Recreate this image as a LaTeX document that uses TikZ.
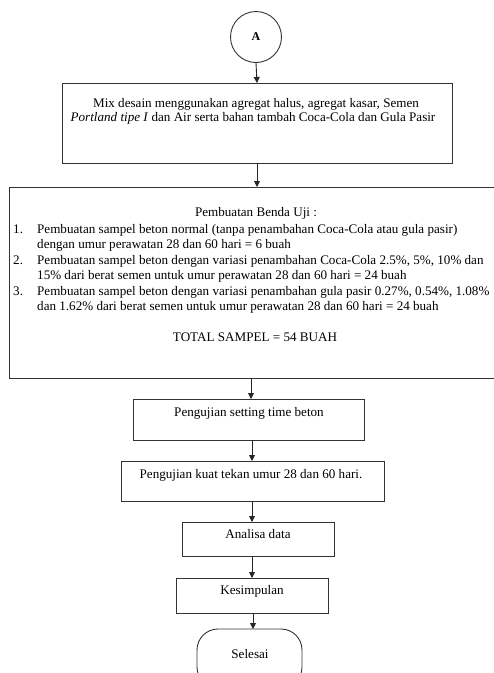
\documentclass[tikz,border=0pt]{standalone}
\usepackage{fontspec}
\setmainfont{Liberation Serif}
\usetikzlibrary{arrows.meta}
\begin{document}
\begin{tikzpicture}[x=1pt,y=-1pt,
  box/.style={draw=black!80,line width=0.9pt},
  lbl/.style={inner sep=0pt,font=\fontsize{13.1}{15}\selectfont},
  arr/.style={draw=black!85,line width=0.9pt,-{Triangle[length=6pt,width=6pt]}}]
\useasboundingbox (0,0) rectangle (494,673);
% start connector
\node[draw=black!80,line width=0.9pt,circle,minimum size=51pt,inner sep=0pt] (A) at (256,37) {};
\node[lbl,font=\fontsize{12}{14}\selectfont\bfseries] (At) at (256,37) {A};
% box 1
\draw[box] (62,83) rectangle (452,163);
\coordinate (b1t) at (257,83);
\coordinate (b1b) at (257,163);
\node[lbl,anchor=base] (m1) at (256,107) {Mix desain menggunakan agregat halus, agregat kasar, Semen};
\node[lbl,anchor=base] (m2) at (253,121) {\textit{Portland tipe I} dan Air serta bahan tambah Coca-Cola dan Gula Pasir};
% box 2
\draw[box] (500,187) -- (9,187) -- (9,378) -- (500,378);
\coordinate (b2t) at (257,187);
\coordinate (b2b) at (251,378);
\node[lbl] (t0) at (256,213) {Pembuatan Benda Uji :};
\node[lbl,anchor=base west] (n1) at (13,233) {1.};
\node[lbl,anchor=base west] (l1a) at (37,233) {Pembuatan sampel beton normal (tanpa penambahan Coca-Cola atau gula pasir)};
\node[lbl,anchor=base west] (l1b) at (37,248.5) {dengan umur perawatan 28 dan 60 hari = 6 buah};
\node[lbl,anchor=base west] (n2) at (13,264) {2.};
\node[lbl,anchor=base west] (l2a) at (37,264) {Pembuatan sampel beton dengan variasi penambahan Coca-Cola 2.5\%, 5\%, 10\% dan};
\node[lbl,anchor=base west] (l2b) at (37,279.5) {15\% dari berat semen untuk umur perawatan 28 dan 60 hari = 24 buah};
\node[lbl,anchor=base west] (n3) at (13,295) {3.};
\node[lbl,anchor=base west] (l3a) at (37,295) {Pembuatan sampel beton dengan variasi penambahan gula pasir 0.27\%, 0.54\%, 1.08\%};
\node[lbl,anchor=base west] (l3b) at (37,310.5) {dan 1.62\% dari berat semen untuk umur perawatan 28 dan 60 hari = 24 buah};
\node[lbl] (tot) at (255,337) {TOTAL SAMPEL = 54 BUAH};
% box 3
\draw[box] (133,399) rectangle (364,440);
\coordinate (b3t) at (251,399);
\coordinate (b3b) at (252,440);
\node[lbl] (s3) at (249,413) {Pengujian setting time beton};
% box 4
\draw[box] (121,461) rectangle (384,501);
\coordinate (b4t) at (252,461);
\coordinate (b4b) at (252,501);
\node[lbl] (s4) at (251,475) {Pengujian kuat tekan umur 28 dan 60 hari.};
% box 5
\draw[box] (182,522) rectangle (334,556);
\coordinate (b5t) at (252,522);
\coordinate (b5b) at (252,556);
\node[lbl] (s5) at (258,534) {Analisa data};
% box 6
\draw[box] (176,578) rectangle (328,613);
\coordinate (b6t) at (252,578);
\coordinate (b6b) at (253,613);
\node[lbl] (s6) at (252,591) {Kesimpulan};
% terminal
\draw[box,rounded corners=21pt] (197,629) rectangle (302,688);
\coordinate (b7t) at (253,629);
\node[lbl] (s7) at (250,654) {Selesai};
% connectors
\draw[arr] (A.south) -- (b1t);
\draw[arr] (b1b) -- (b2t);
\draw[arr] (b2b) -- (b3t);
\draw[arr] (b3b) -- (b4t);
\draw[arr] (b4b) -- (b5t);
\draw[arr] (b5b) -- (b6t);
\draw[arr] (b6b) -- (b7t);
\end{tikzpicture}
\end{document}
